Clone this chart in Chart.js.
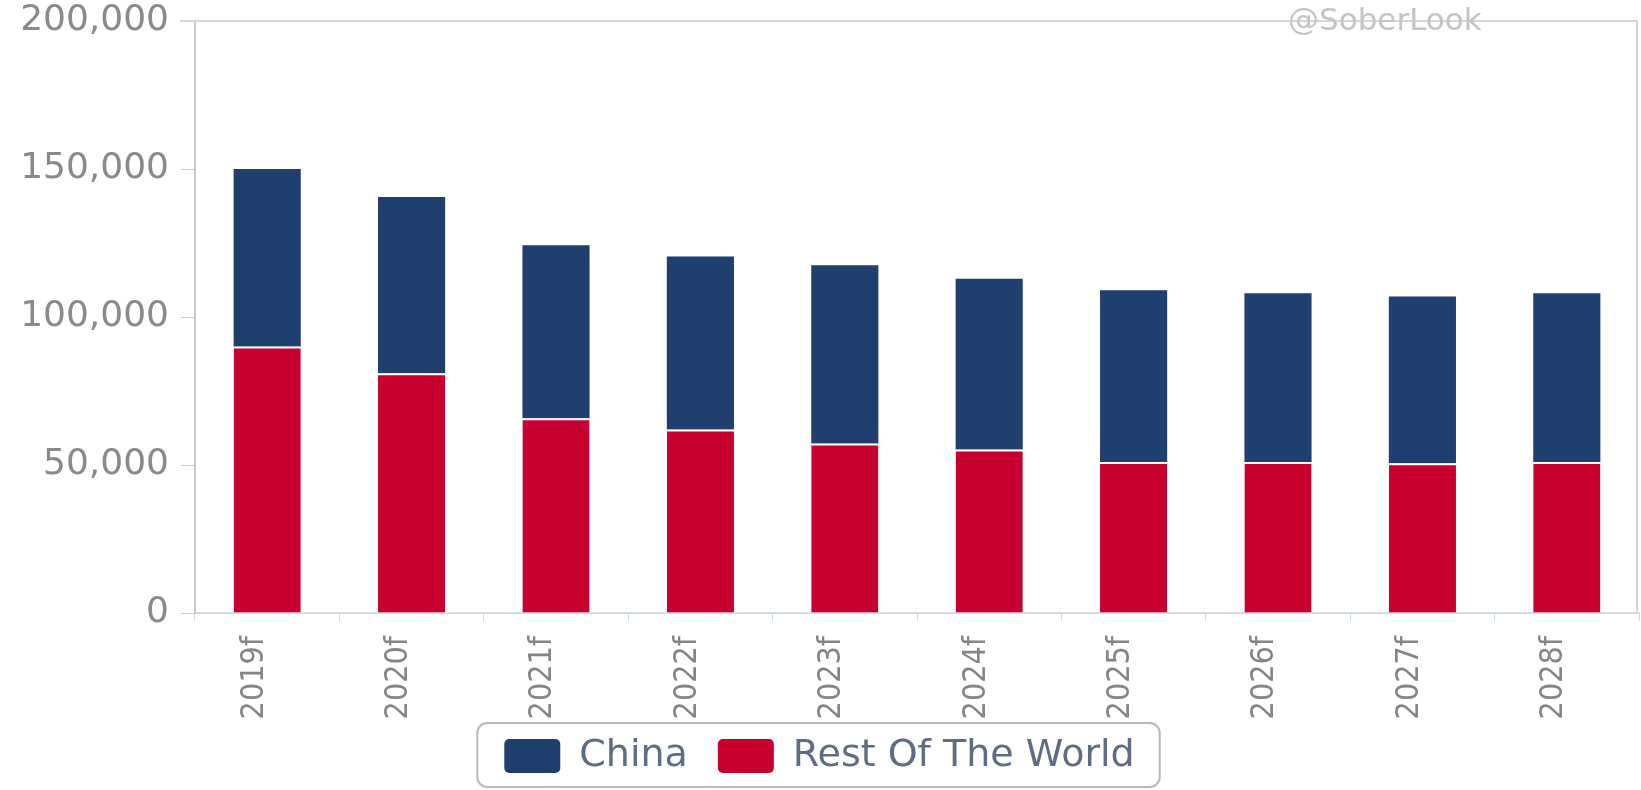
<!DOCTYPE html>
<html lang="en">
<head>
<meta charset="UTF-8">
<title>China vs Rest Of The World</title>
<script src="https://cdn.jsdelivr.net/npm/chart.js"></script>
<style>
  html, body { margin: 0; padding: 0; background: #fff; }
</style>
</head>
<body>
<canvas id="chart" width="1641" height="790"></canvas>
<script>
// values
const years = ['2019f', '2020f', '2021f', '2022f', '2023f', '2024f', '2025f', '2026f', '2027f', '2028f'];
const restValues = [90000, 81000, 65800, 62000, 57300, 55200, 51000, 51000, 50600, 51000];
const chinaValues = [60000, 59500, 58400, 58400, 60200, 57700, 58000, 57000, 56300, 57000];
const yTicks = [0, 50000, 100000, 150000, 200000];

// frame, watermark and the box round the legend
const extras = {
  id: 'extras',
  afterLayout(chart) {
    // the rotated year labels run a little into the legend band, don't cut them off
    chart.scales.x._computeLabelArea = () => undefined;
  },
  afterDraw(chart) {
    const ctx = chart.ctx;
    const a = chart.chartArea;
    ctx.save();
    ctx.strokeStyle = '#d6d6d6';
    ctx.lineWidth = 2;
    ctx.beginPath();
    ctx.moveTo(a.left - 15, a.top);
    ctx.lineTo(a.right - 2, a.top);
    ctx.lineTo(a.right - 2, a.bottom);
    ctx.stroke();

    ctx.font = '31px "DejaVu Sans"';
    ctx.fillStyle = '#c4c4c4';
    ctx.textBaseline = 'middle';
    ctx.fillText('@SoberLook', 1288, 22);

    const boxes = chart.legend.legendHitBoxes;
    if (boxes && boxes.length) {
      const first = boxes[0], last = boxes[boxes.length - 1];
      const x0 = first.left - 27, x1 = last.left + last.width + 25;
      const y0 = first.top - 14, y1 = Math.min(chart.height - 3, first.top + first.height + 14);
      ctx.strokeStyle = '#b8b8b8';
      ctx.lineWidth = 2;
      ctx.beginPath();
      ctx.roundRect(x0, y0, x1 - x0, y1 - y0, 10);
      ctx.stroke();
    }
    ctx.restore();
  }
};

new Chart(document.getElementById('chart'), {
  type: 'bar',
  data: {
    labels: years,
    datasets: [
      {
        label: 'Rest Of The World',
        data: restValues,
        backgroundColor: '#c80030',
        borderColor: '#ffffff',
        borderWidth: { top: 2, right: 0, bottom: 0, left: 0 },
        borderSkipped: false
      },
      {
        label: 'China',
        data: chinaValues,
        backgroundColor: '#1f3f6f',
        borderWidth: 0
      }
    ]
  },
  options: {
    responsive: false,
    animation: false,
    layout: { padding: { top: 0, right: 2, left: 0, bottom: 5 } },
    datasets: { bar: { categoryPercentage: 1, barPercentage: 0.465 } },
    scales: {
      x: {
        stacked: true,
        grid: { drawOnChartArea: false, drawTicks: true, tickLength: 8, color: '#d3dadd', offset: true },
        border: { display: true, color: '#cfdce2', width: 2 },
        ticks: {
          autoSkip: false, minRotation: 90, maxRotation: 90, labelOffset: -13, padding: 15,
          color: '#858585',
          font: { family: '"DejaVu Sans Condensed", "Liberation Sans", sans-serif', size: 32 }
        },
        afterFit(scale) { scale.height = 94; }
      },
      y: {
        stacked: true,
        min: 0,
        max: 200000,
        afterBuildTicks(scale) { scale.ticks = yTicks.map(v => ({ value: v })); },
        grid: { drawOnChartArea: false, tickLength: 14, color: '#cccccc' },
        border: { color: '#c8c8c8', width: 2 },
        ticks: {
          padding: 12,
          color: '#8a8a8a',
          font: { family: '"DejaVu Sans"', size: 36, lineHeight: 0.5 },
          callback: v => v.toLocaleString('en-US')
        },
        afterFit(scale) { scale.width = 195; }
      }
    },
    plugins: {
      tooltip: { enabled: false },
      legend: {
        position: 'bottom',
        reverse: true,
        labels: {
          boxWidth: 56,
          boxHeight: 34,
          padding: 30,
          color: '#5e6d86',
          font: { family: '"DejaVu Sans"', size: 38 },
          useBorderRadius: true,
          borderRadius: 5,
          generateLabels(chart) {
            return Chart.defaults.plugins.legend.labels.generateLabels(chart)
              .map(l => Object.assign(l, { lineWidth: 0, strokeStyle: 'rgba(0,0,0,0)' }));
          }
        }
      }
    }
  },
  plugins: [extras]
});
</script>
</body>
</html>
